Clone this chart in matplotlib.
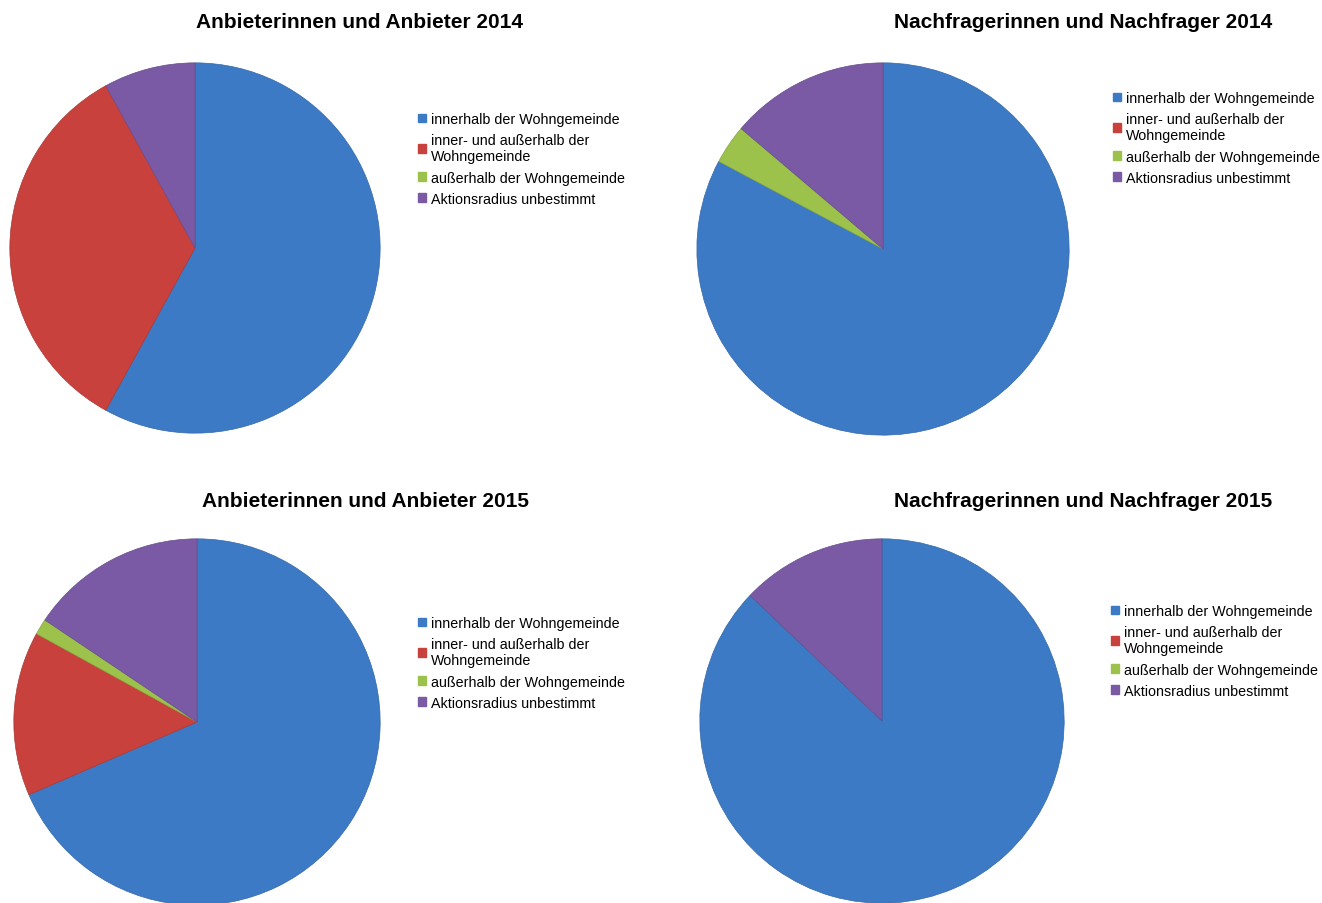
import matplotlib.pyplot as plt
from matplotlib.colors import to_rgb

plt.rcParams["font.family"] = ["Liberation Sans", "DejaVu Sans"]

W, H = 1322, 904

categories = [
    "innerhalb der Wohngemeinde",
    "inner- und außerhalb der\nWohngemeinde",
    "außerhalb der Wohngemeinde",
    "Aktionsradius unbestimmt",
]
colors = ["#3D7AC6", "#C8413D", "#9CC24B", "#7A5AA5"]

# shares in percent
anbieter_2014 = [58.0, 34.0, 0.0, 8.0]
nachfrager_2014 = [82.8, 0.0, 3.4, 13.8]
anbieter_2015 = [68.5, 14.5, 1.4, 15.6]
nachfrager_2015 = [87.1, 0.0, 0.0, 12.9]

titles = [
    "Anbieterinnen und Anbieter 2014",
    "Nachfragerinnen und Nachfrager 2014",
    "Anbieterinnen und Anbieter 2015",
    "Nachfragerinnen und Nachfrager 2015",
]
series = [anbieter_2014, nachfrager_2014, anbieter_2015, nachfrager_2015]

# layout in pixels: pie centre x, centre y, radius / title x, y / legend x, y
pies = [(195, 249, 187), (883, 250, 188), (197, 723, 185), (882, 722, 184)]
title_pos = [(360, 23), (1083, 23), (366, 502), (1083, 502)]
legend_pos = [(418, 113), (1113, 92), (418, 617), (1111, 605)]


def darker(c, f=0.85):
    r, g, b = to_rgb(c)
    return (r * f, g * f, b * f)


fig = plt.figure(figsize=(W / 100, H / 100), dpi=100)

for vals, title, (cx, cy, r), (tx, ty), (lx, ly) in zip(
        series, titles, pies, title_pos, legend_pos):
    ax = fig.add_axes([(cx - r) / W, (H - cy - r) / H, 2 * r / W, 2 * r / H])
    wedges, _ = ax.pie(vals, colors=colors, startangle=90, counterclock=False,
                       radius=1, wedgeprops=dict(linewidth=0.5))
    for w, v, c in zip(wedges, vals, colors):
        w.set_edgecolor(darker(c))
        if v == 0:
            w.set_visible(False)
    ax.set_xlim(-1.01, 1.01)
    ax.set_ylim(-1.01, 1.01)
    ax.set_aspect("equal")
    ax.axis("off")

    fig.text(tx / W, 1 - ty / H, title, ha="center", va="center",
             fontsize=15, fontweight="bold")

    handles = [plt.Rectangle((0, 0), 1, 1, color=c) for c in colors]
    fig.legend(handles, categories, loc="upper left",
               bbox_to_anchor=(lx / W, 1 - ly / H), frameon=False,
               fontsize=10.3, handlelength=0.56, handleheight=0.56,
               handletextpad=0.35, labelspacing=0.5, borderpad=0,
               borderaxespad=0)

fig.savefig("out.png", dpi=100)
